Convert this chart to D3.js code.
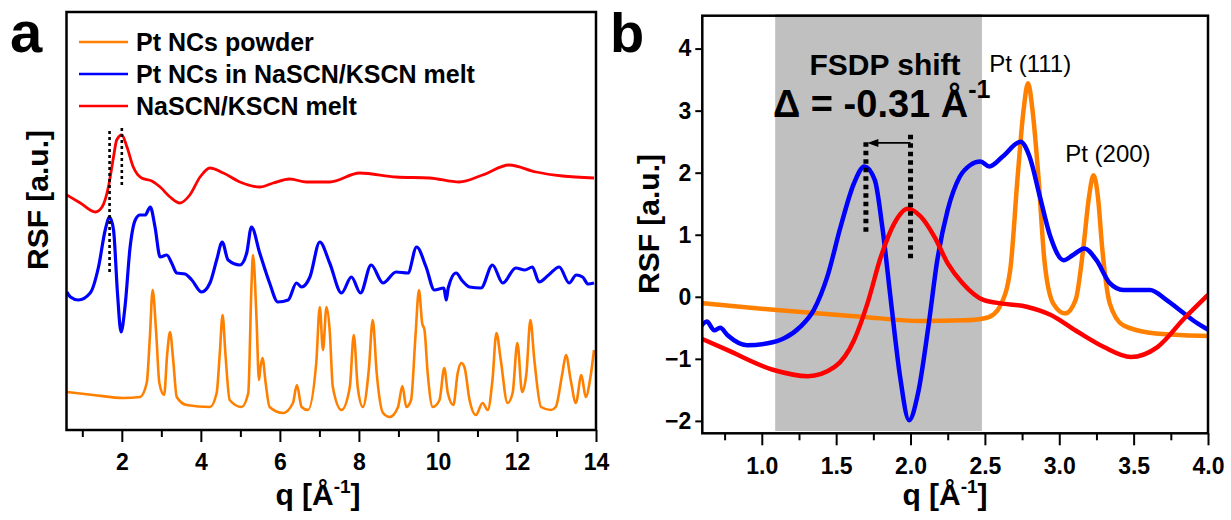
<!DOCTYPE html>
<html lang="en">
<head>
<meta charset="utf-8">
<title>RSF of Pt NCs in NaSCN/KSCN melt</title>
<style>
  body { margin: 0; background: #fff; }
  text { font-family: Arial, "Liberation Sans", sans-serif; }
</style>
</head>
<body>
<script src="https://cdnjs.cloudflare.com/ajax/libs/d3/7.9.0/d3.min.js"></script>
<script>
// ---- panel a data: q [1/A], RSF (a.u., curves offset vertically) ----
const aPowder = [[0.61,0.38],[1.28,0.35],[2.04,0.32],[2.46,0.33],[2.63,0.47],[2.71,0.93],[2.78,1.40],[2.87,0.97],[2.95,0.47],[3.07,0.35],[3.15,0.77],[3.22,0.98],[3.30,0.70],[3.39,0.33],[3.64,0.25],[4.23,0.23],[4.40,0.37],[4.48,0.77],[4.55,1.15],[4.62,0.77],[4.73,0.30],[5.03,0.23],[5.20,0.37],[5.28,1.43],[5.32,1.75],[5.41,1.10],[5.47,0.50],[5.51,0.63],[5.56,0.72],[5.64,0.47],[5.74,0.23],[6.08,0.17],[6.33,0.27],[6.43,0.45],[6.55,0.23],[6.71,0.20],[6.92,0.67],[7.01,1.23],[7.09,0.80],[7.18,1.23],[7.26,1.00],[7.34,0.43],[7.56,0.20],[7.77,0.43],[7.87,0.95],[7.97,0.43],[8.10,0.23],[8.25,0.60],[8.35,1.10],[8.45,0.57],[8.61,0.17],[8.78,0.13],[8.99,0.23],[9.10,0.44],[9.20,0.23],[9.32,0.30],[9.43,0.93],[9.52,1.40],[9.60,1.07],[9.66,1.00],[9.74,0.57],[9.87,0.23],[10.04,0.30],[10.16,0.62],[10.25,0.37],[10.39,0.25],[10.50,0.57],[10.59,0.67],[10.67,0.63],[10.80,0.30],[10.96,0.15],[11.13,0.27],[11.26,0.20],[11.38,0.50],[11.48,0.97],[11.59,0.70],[11.76,0.27],[11.89,0.37],[12.01,0.87],[12.13,0.38],[12.24,0.57],[12.34,1.10],[12.44,0.70],[12.61,0.23],[12.86,0.20],[12.98,0.23],[13.15,0.57],[13.24,0.75],[13.36,0.50],[13.49,0.27],[13.63,0.55],[13.74,0.33],[13.86,0.53],[13.95,0.80]];
const aInMelt = [[0.61,1.38],[0.70,1.33],[0.90,1.30],[1.20,1.37],[1.41,1.63],[1.58,2.00],[1.69,2.13],[1.79,2.00],[1.89,1.37],[1.98,0.98],[2.08,1.23],[2.21,1.83],[2.34,2.10],[2.46,2.15],[2.59,2.15],[2.72,2.23],[2.84,2.03],[2.97,1.73],[3.14,1.75],[3.26,1.67],[3.39,1.57],[3.60,1.56],[3.77,1.50],[4.02,1.38],[4.23,1.47],[4.40,1.70],[4.54,1.88],[4.69,1.70],[4.99,1.65],[5.16,1.77],[5.28,2.03],[5.49,1.77],[5.74,1.47],[5.95,1.28],[6.21,1.30],[6.42,1.47],[6.55,1.43],[6.76,1.53],[7.01,1.88],[7.26,1.67],[7.56,1.37],[7.81,1.53],[8.04,1.37],[8.31,1.65],[8.61,1.47],[8.94,1.58],[9.24,1.57],[9.46,1.83],[9.70,1.63],[9.91,1.40],[10.15,1.42],[10.21,1.30],[10.26,1.42],[10.46,1.57],[10.62,1.49],[10.80,1.43],[11.09,1.42],[11.38,1.65],[11.64,1.47],[11.97,1.62],[12.20,1.60],[12.39,1.63],[12.56,1.48],[12.80,1.55],[13.07,1.63],[13.32,1.47],[13.50,1.55],[13.66,1.53],[13.80,1.46],[13.95,1.47]];
const aMelt = [[0.61,2.35],[0.95,2.27],[1.33,2.18],[1.50,2.23],[1.66,2.43],[1.79,2.73],[1.87,2.90],[2.00,2.95],[2.13,2.83],[2.29,2.63],[2.50,2.52],[2.76,2.49],[2.97,2.43],[3.22,2.33],[3.47,2.27],[3.72,2.35],[3.98,2.53],[4.23,2.62],[4.57,2.57],[4.99,2.48],[5.49,2.43],[5.83,2.47],[6.25,2.51],[6.67,2.48],[7.26,2.48],[8.02,2.57],[8.94,2.53],[9.79,2.52],[10.54,2.48],[11.13,2.55],[11.80,2.65],[12.48,2.58],[13.15,2.54],[13.95,2.52]];
const aMarkers = [{q: 1.69, y0: 1.58, y1: 3.01}, {q: 2.00, y0: 2.45, y1: 3.03}];
const aTicks = [2, 4, 6, 8, 10, 12, 14];
const aMinor = [1, 3, 5, 7, 9, 11, 13];
const legendNames = ["Pt NCs powder", "Pt NCs in NaSCN/KSCN melt", "NaSCN/KSCN melt"];

// ---- panel b data ----
const bPowder = [[0.59,-0.10],[1.08,-0.21],[1.67,-0.32],[2.07,-0.39],[2.36,-0.38],[2.49,-0.35],[2.56,-0.28],[2.60,-0.16],[2.67,0.43],[2.72,1.93],[2.76,3.01],[2.79,3.44],[2.82,3.01],[2.86,1.93],[2.90,0.59],[2.96,-0.11],[3.04,-0.27],[3.11,-0.05],[3.16,0.75],[3.20,1.61],[3.23,1.96],[3.26,1.61],[3.29,0.75],[3.34,-0.11],[3.43,-0.46],[3.61,-0.58],[3.84,-0.62],[4.00,-0.63]];
const bInMelt = [[0.59,-0.48],[0.63,-0.40],[0.68,-0.54],[0.72,-0.50],[0.77,-0.62],[0.90,-0.78],[1.04,-0.75],[1.15,-0.67],[1.26,-0.48],[1.35,-0.21],[1.44,0.32],[1.53,1.13],[1.62,1.83],[1.69,2.10],[1.76,1.88],[1.81,1.13],[1.87,-0.11],[1.93,-1.29],[1.99,-1.99],[2.05,-1.56],[2.12,-0.48],[2.18,0.59],[2.25,1.40],[2.33,1.93],[2.40,2.12],[2.47,2.18],[2.53,2.10],[2.62,2.26],[2.74,2.50],[2.80,2.26],[2.87,1.61],[2.94,0.97],[3.03,0.59],[3.09,0.67],[3.17,0.78],[3.25,0.59],[3.34,0.22],[3.43,0.11],[3.61,0.11],[3.72,-0.05],[3.84,-0.27],[3.93,-0.43],[4.00,-0.53]];
const bMelt = [[0.59,-0.67],[0.77,-0.86],[1.08,-1.18],[1.31,-1.28],[1.49,-1.13],[1.62,-0.70],[1.71,-0.11],[1.80,0.64],[1.89,1.18],[1.98,1.42],[2.07,1.29],[2.16,0.97],[2.25,0.54],[2.35,0.22],[2.49,-0.05],[2.62,-0.11],[2.78,-0.16],[2.94,-0.29],[3.12,-0.56],[3.30,-0.81],[3.48,-0.97],[3.66,-0.81],[3.84,-0.35],[4.00,0.03]];
const bBand = [1.09, 2.48];
const bMarkers = [{q: 1.70, y0: 1.05, y1: 2.50}, {q: 2.00, y0: 0.62, y1: 2.63}];
const bArrow = {from: 2.00, to: 1.71, y: 2.48};
const bTicks = [1.0, 1.5, 2.0, 2.5, 3.0, 3.5, 4.0];
const bMinor = [0.75, 1.25, 1.75, 2.25, 2.75, 3.25, 3.75];
const bYTicks = [-2, -1, 0, 1, 2, 3, 4];
const peakLabels = [{text: "Pt (111)", q: 2.53, y: 3.63}, {text: "Pt (200)", q: 3.04, y: 2.18}];

const colors = ["#ff8000", "#0000ff", "#ff0000"];

const svg = d3.select("body").append("svg")
    .attr("width", 1231)
    .attr("height", 520);

function bottomAxis(g, scale, major, minor, fmt) {
    g.append("g")
        .call(d3.axisBottom(scale).tickValues(minor).tickSize(7).tickFormat(""))
        .call(s => s.select(".domain").remove())
        .selectAll("line").attr("stroke-width", 2);
    g.append("g")
        .call(d3.axisBottom(scale).tickValues(major).tickSize(12).tickPadding(12).tickFormat(fmt))
        .call(s => s.select(".domain").remove())
        .call(s => s.selectAll("line").attr("stroke-width", 2))
        .selectAll("text")
        .attr("fill", "#000")
        .style("font-size", "23px")
        .style("font-weight", "bold")
        .style("font-family", "Arial, 'Liberation Sans', sans-serif");
}

function qLabel(x, y) {
    const t = svg.append("text")
        .attr("x", x).attr("y", y)
        .attr("text-anchor", "middle")
        .style("font-size", "30px")
        .style("font-weight", "bold");
    t.append("tspan").text("q [Å");
    t.append("tspan").attr("dy", -12).style("font-size", "19px").text("-1");
    t.append("tspan").attr("dy", 12).text("]");
}

function rsfLabel(x, y) {
    svg.append("text")
        .attr("transform", `translate(${x},${y}) rotate(-90)`)
        .attr("text-anchor", "middle")
        .style("font-size", "30px")
        .style("font-weight", "bold")
        .text("RSF [a.u.]");
}

// ================= panel a =================
const xA = d3.scaleLinear().domain([0.6, 14]).range([66.5, 596]);
const yA = d3.scaleLinear().domain([0, 4.18]).range([430, 12]);

const gA = svg.append("g");
gA.append("clipPath").attr("id", "clipA").append("rect")
    .attr("x", 66.5).attr("y", 12).attr("width", 596 - 66.5).attr("height", 430 - 12);

const lineA = d3.line().x(d => xA(d[0])).y(d => yA(d[1])).curve(d3.curveMonotoneX);

const plotA = gA.append("g").attr("clip-path", "url(#clipA)");
plotA.append("path").datum(aInMelt).attr("d", lineA)
    .attr("fill", "none").attr("stroke", colors[1]).attr("stroke-width", 3.2).attr("stroke-linejoin", "round");
plotA.append("path").datum(aPowder).attr("d", lineA)
    .attr("fill", "none").attr("stroke", colors[0]).attr("stroke-width", 2.6).attr("stroke-linejoin", "round");
plotA.append("path").datum(aMelt).attr("d", lineA)
    .attr("fill", "none").attr("stroke", colors[2]).attr("stroke-width", 2.8).attr("stroke-linejoin", "round");

gA.selectAll(".markA").data(aMarkers).enter().append("line")
    .attr("x1", d => xA(d.q)).attr("x2", d => xA(d.q))
    .attr("y1", d => yA(d.y0)).attr("y2", d => yA(d.y1))
    .attr("stroke", "#000").attr("stroke-width", 2.6).attr("stroke-dasharray", "3,3");

gA.append("rect")
    .attr("x", 66.5).attr("y", 12).attr("width", 596 - 66.5).attr("height", 430 - 12)
    .attr("fill", "none").attr("stroke", "#000").attr("stroke-width", 2.5);

bottomAxis(gA.append("g").attr("transform", "translate(0,430)"), xA, aTicks, aMinor, d3.format("d"));

// legend
const legA = gA.selectAll(".leg").data(legendNames).enter().append("g")
    .attr("transform", (d, i) => `translate(79,${42 + i * 32})`);
legA.append("line").attr("x1", 0).attr("x2", 49)
    .attr("stroke", (d, i) => colors[i]).attr("stroke-width", 2.5);
legA.append("text").attr("x", 57).attr("dy", "0.36em")
    .style("font-size", "25px").style("font-weight", "bold")
    .text(d => d);

svg.append("text").attr("x", 10).attr("y", 52)
    .style("font-size", "58px").style("font-weight", "bold").text("a");
rsfLabel(48, 200);
qLabel(318, 505);

// ================= panel b =================
const xB = d3.scaleLinear().domain([0.6, 4.0]).range([702.3, 1208]);
const yB = d3.scaleLinear().domain([-2.2, 4.53]).range([433.3, 15.7]);

const gB = svg.append("g");
gB.append("clipPath").attr("id", "clipB").append("rect")
    .attr("x", 702.3).attr("y", 15.7).attr("width", 1208 - 702.3).attr("height", 433.3 - 15.7);

gB.append("rect")
    .attr("x", xB(bBand[0])).attr("y", 14)
    .attr("width", xB(bBand[1]) - xB(bBand[0])).attr("height", 431 - 14)
    .attr("fill", "#c0c0c0");

const lineB = d3.line().x(d => xB(d[0])).y(d => yB(d[1])).curve(d3.curveMonotoneX);
const plotB = gB.append("g").attr("clip-path", "url(#clipB)");
plotB.append("path").datum(bPowder).attr("d", lineB)
    .attr("fill", "none").attr("stroke", colors[0]).attr("stroke-width", 4.5).attr("stroke-linejoin", "round");
plotB.append("path").datum(bInMelt).attr("d", lineB)
    .attr("fill", "none").attr("stroke", colors[1]).attr("stroke-width", 4.5).attr("stroke-linejoin", "round");
plotB.append("path").datum(bMelt).attr("d", lineB)
    .attr("fill", "none").attr("stroke", colors[2]).attr("stroke-width", 4.5).attr("stroke-linejoin", "round");

gB.selectAll(".markB").data(bMarkers).enter().append("line")
    .attr("x1", d => xB(d.q)).attr("x2", d => xB(d.q))
    .attr("y1", d => yB(d.y0)).attr("y2", d => yB(d.y1))
    .attr("stroke", "#000").attr("stroke-width", 5).attr("stroke-dasharray", "4.5,4");

// arrow
gB.append("line")
    .attr("x1", xB(bArrow.from)).attr("x2", xB(bArrow.to) + 8)
    .attr("y1", yB(bArrow.y)).attr("y2", yB(bArrow.y))
    .attr("stroke", "#000").attr("stroke-width", 1.6);
const ax = xB(bArrow.to), ay = yB(bArrow.y);
gB.append("path")
    .attr("d", `M${ax},${ay}L${ax + 11},${ay - 4}L${ax + 11},${ay + 4}Z`)
    .attr("fill", "#000");

gB.append("rect")
    .attr("x", 702.3).attr("y", 15.7).attr("width", 1208 - 702.3).attr("height", 433.3 - 15.7)
    .attr("fill", "none").attr("stroke", "#000").attr("stroke-width", 2.5);

bottomAxis(gB.append("g").attr("transform", "translate(0,433.3)"), xB, bTicks, bMinor, d3.format(".1f"));

gB.append("g").attr("transform", "translate(702.3,0)")
    .call(d3.axisLeft(yB).tickValues(bYTicks).tickSize(7).tickPadding(4).tickFormat(d3.format("d")))
    .call(s => s.select(".domain").remove())
    .call(s => s.selectAll("line").attr("stroke-width", 2))
    .selectAll("text")
    .attr("fill", "#000")
    .style("font-size", "23px")
    .style("font-weight", "bold")
    .style("font-family", "Arial, 'Liberation Sans', sans-serif");

// annotations
svg.append("text").attr("x", 885).attr("y", 75).attr("text-anchor", "middle")
    .style("font-size", "30px").style("font-weight", "bold").text("FSDP shift");
const dT = svg.append("text").attr("x", 773).attr("y", 117)
    .style("font-size", "38px").style("font-weight", "bold");
dT.append("tspan").text("Δ = -0.31 Å");
dT.append("tspan").attr("dy", -19).style("font-size", "25px").text("-1");

svg.selectAll(".peak").data(peakLabels).enter().append("text")
    .attr("x", d => xB(d.q)).attr("y", d => yB(d.y))
    .style("font-size", "24px")
    .text(d => d.text);

svg.append("text").attr("x", 610).attr("y", 52)
    .style("font-size", "56px").style("font-weight", "bold").text("b");
rsfLabel(659, 224);
qLabel(945, 505);
</script>
</body>
</html>
